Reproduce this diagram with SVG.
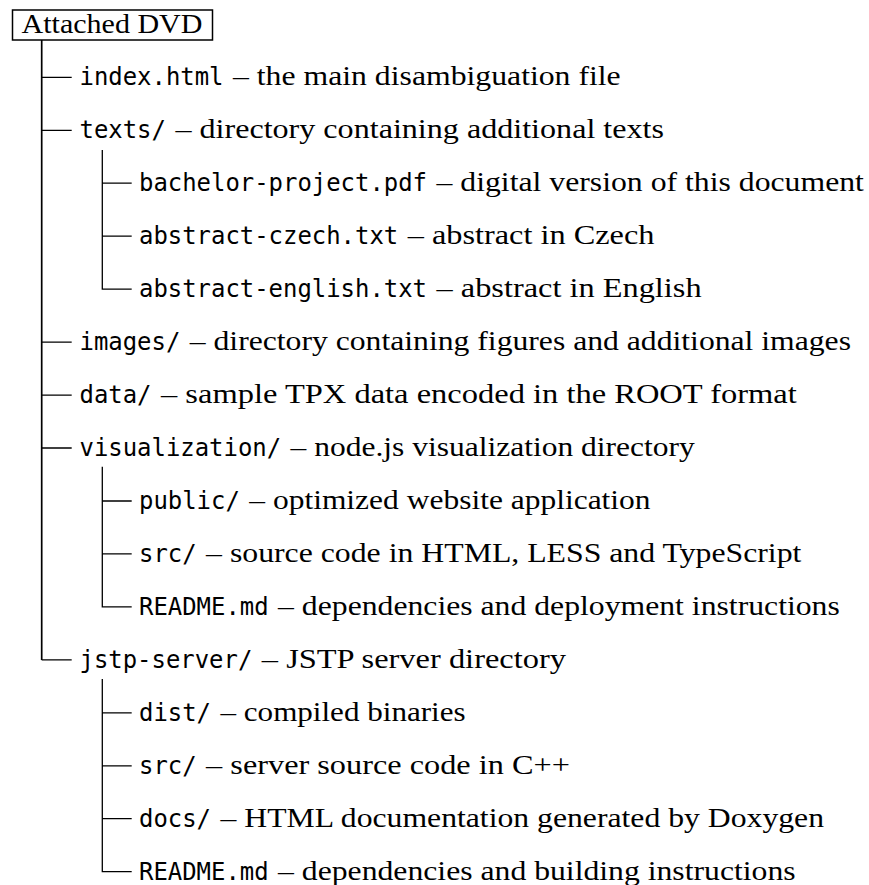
<svg xmlns="http://www.w3.org/2000/svg" width="869" height="885" viewBox="0 0 869 885">
<style>
.m{font-family:"DejaVu Sans Mono","Liberation Mono",monospace;font-size:24.5px;fill:#000}
.s{font-family:"Liberation Serif","Times New Roman",serif;font-size:28px;fill:#000}
.ln{stroke:#000;stroke-width:1.3;fill:none}
.main{stroke:#000;stroke-width:1.7;fill:none}
</style>
<rect width="869" height="885" fill="#fff"/>
<g id="root">
<rect x="12.5" y="10" width="200" height="30" fill="none" stroke="#000" stroke-width="1.5"/>
<text class="s" x="21.5" y="33" textLength="181" lengthAdjust="spacingAndGlyphs">Attached DVD</text>
</g>
<g id="connectors">
<path class="main" d="M41.7 40V659.9"/>
<path class="ln" d="M41.7 77.3H71.7M41.7 130.3H71.7M41.7 342.1H71.7M41.7 395.1H71.7M41.7 448H71.7M41.7 659.9H71.7"/>
<path class="ln" d="M102.3 150V183.2H131.7M102.3 236.2H131.7M102.3 183.2V289.1H131.7"/>
<path class="ln" d="M102.3 466.7V501H131.7M102.3 553.9H131.7M102.3 501V606.9H131.7"/>
<path class="ln" d="M102.3 679V712.8H131.7M102.3 765.8H131.7M102.3 818.7H131.7M102.3 712.8V871.7H131.7"/>
</g>
<g id="index">
<text class="m" x="79.5" y="85.3" textLength="144" lengthAdjust="spacingAndGlyphs">index.html</text>
<text class="s" x="233" y="85.3" textLength="387.7" lengthAdjust="spacingAndGlyphs">– the main disambiguation file</text>
</g>
<g id="texts">
<text class="m" x="79.5" y="138.3" textLength="86.4" lengthAdjust="spacingAndGlyphs">texts/</text>
<text class="s" x="175.4" y="138.3" textLength="488.6" lengthAdjust="spacingAndGlyphs">– directory containing additional texts</text>
</g>
<g id="bachelor">
<text class="m" x="139" y="191.2" textLength="288" lengthAdjust="spacingAndGlyphs">bachelor-project.pdf</text>
<text class="s" x="436.5" y="191.2" textLength="427.4" lengthAdjust="spacingAndGlyphs">– digital version of this document</text>
</g>
<g id="czech">
<text class="m" x="139" y="244.2" textLength="259.2" lengthAdjust="spacingAndGlyphs">abstract-czech.txt</text>
<text class="s" x="407.7" y="244.2" textLength="246.7" lengthAdjust="spacingAndGlyphs">– abstract in Czech</text>
</g>
<g id="english">
<text class="m" x="139" y="297.1" textLength="288" lengthAdjust="spacingAndGlyphs">abstract-english.txt</text>
<text class="s" x="436.5" y="297.1" textLength="265.1" lengthAdjust="spacingAndGlyphs">– abstract in English</text>
</g>
<g id="images">
<text class="m" x="79.5" y="350.1" textLength="100.8" lengthAdjust="spacingAndGlyphs">images/</text>
<text class="s" x="189.8" y="350.1" textLength="661.2" lengthAdjust="spacingAndGlyphs">– directory containing figures and additional images</text>
</g>
<g id="data">
<text class="m" x="79.5" y="403.1" textLength="72" lengthAdjust="spacingAndGlyphs">data/</text>
<text class="s" x="161" y="403.1" textLength="635.8" lengthAdjust="spacingAndGlyphs">– sample TPX data encoded in the ROOT format</text>
</g>
<g id="visualization">
<text class="m" x="79.5" y="456" textLength="201.6" lengthAdjust="spacingAndGlyphs">visualization/</text>
<text class="s" x="290.6" y="456" textLength="404.1" lengthAdjust="spacingAndGlyphs">– node.js visualization directory</text>
</g>
<g id="public">
<text class="m" x="139" y="509" textLength="100.8" lengthAdjust="spacingAndGlyphs">public/</text>
<text class="s" x="249.3" y="509" textLength="401.3" lengthAdjust="spacingAndGlyphs">– optimized website application</text>
</g>
<g id="vis-src">
<text class="m" x="139" y="561.9" textLength="57.6" lengthAdjust="spacingAndGlyphs">src/</text>
<text class="s" x="206.1" y="561.9" textLength="595.3" lengthAdjust="spacingAndGlyphs">– source code in HTML, LESS and TypeScript</text>
</g>
<g id="vis-readme">
<text class="m" x="139" y="614.9" textLength="129.6" lengthAdjust="spacingAndGlyphs">README.md</text>
<text class="s" x="278.1" y="614.9" textLength="561.7" lengthAdjust="spacingAndGlyphs">– dependencies and deployment instructions</text>
</g>
<g id="jstp">
<text class="m" x="79.5" y="667.9" textLength="172.8" lengthAdjust="spacingAndGlyphs">jstp-server/</text>
<text class="s" x="261.8" y="667.9" textLength="304.2" lengthAdjust="spacingAndGlyphs">– JSTP server directory</text>
</g>
<g id="dist">
<text class="m" x="139" y="720.8" textLength="72" lengthAdjust="spacingAndGlyphs">dist/</text>
<text class="s" x="220.5" y="720.8" textLength="245.1" lengthAdjust="spacingAndGlyphs">– compiled binaries</text>
</g>
<g id="jstp-src">
<text class="m" x="139" y="773.8" textLength="57.6" lengthAdjust="spacingAndGlyphs">src/</text>
<text class="s" x="206.1" y="773.8" textLength="363.8" lengthAdjust="spacingAndGlyphs">– server source code in C++</text>
</g>
<g id="docs">
<text class="m" x="139" y="826.7" textLength="72" lengthAdjust="spacingAndGlyphs">docs/</text>
<text class="s" x="220.5" y="826.7" textLength="603.5" lengthAdjust="spacingAndGlyphs">– HTML documentation generated by Doxygen</text>
</g>
<g id="jstp-readme">
<text class="m" x="139" y="879.7" textLength="129.6" lengthAdjust="spacingAndGlyphs">README.md</text>
<text class="s" x="278.1" y="879.7" textLength="517.5" lengthAdjust="spacingAndGlyphs">– dependencies and building instructions</text>
</g>
</svg>
